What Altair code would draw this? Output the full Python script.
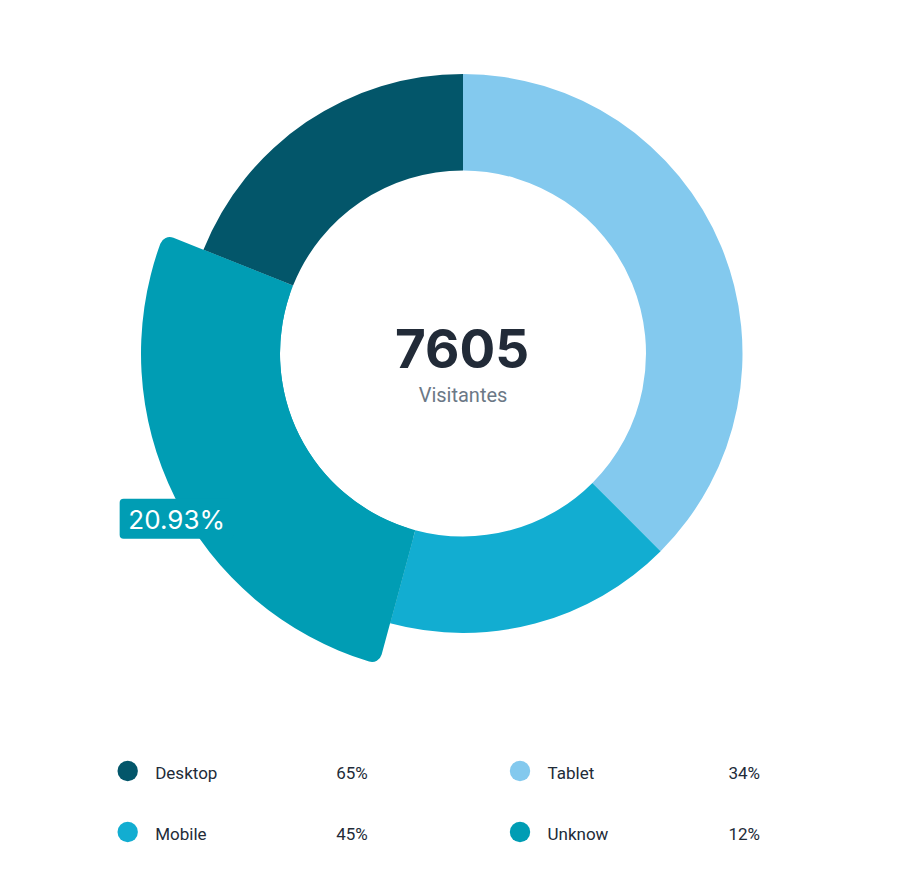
import altair as alt
import pandas as pd

# ---- data ----
categories = ["Tablet", "Mobile", "Unknow", "Desktop"]      # clockwise from 12 o'clock
shares = [37.5, 16.7, 26.85, 18.95]                          # visual share of the ring
colors = ["#83c9ee", "#12add1", "#009db4", "#03566a"]
highlight = "Unknow"
highlight_label = "20.93%"
total_visitors = "7605"
center_caption = "Visitantes"
legend_names = ["Desktop", "Mobile", "Tablet", "Unknow"]
legend_pcts = ["65%", "45%", "34%", "12%"]

# ---- layout ----
W, H = 900, 860
CX, CY = 455, 345.5
R_IN, R_OUT, R_HL = 183, 279.5, 322
LABEL_R = 330.6
LABEL_SHIFT = -0.06
TEXT_DARK = "#222b38"
TEXT_GREY = "#6b7886"

df = pd.DataFrame({"cat": categories, "share": shares, "ord": list(range(len(categories)))})
df["label"] = [highlight_label if c == highlight else "" for c in categories]

color_scale = alt.Scale(domain=categories, range=colors)

base = alt.Chart(df).encode(
    theta=alt.Theta("share:Q", stack=True),
    order=alt.Order("ord:Q"),
    color=alt.Color("cat:N", scale=color_scale, legend=None),
    x=alt.value(CX),
    y=alt.value(CY),
)

ring = base.mark_arc(innerRadius=R_IN, outerRadius=R_OUT)
hl = base.mark_arc(innerRadius=R_IN, outerRadius=R_HL, cornerRadius=10).encode(
    opacity=alt.condition(alt.datum.cat == highlight, alt.value(1), alt.value(0))
)

label_src = (
    alt.Chart(df)
    .transform_joinaggregate(total="sum(share)")
    .transform_window(cum="sum(share)", sort=[alt.SortField("ord")], frame=[None, 0])
    .transform_calculate(mid="(datum.cum - datum.share / 2) / datum.total * 2 * PI")
    .transform_filter(alt.datum.cat == highlight)
    .transform_calculate(
        lx=f"{CX} + {LABEL_R} * sin(datum.mid + {LABEL_SHIFT})",
        ly=f"{CY} - {LABEL_R} * cos(datum.mid + {LABEL_SHIFT})",
    )
    .encode(
        x=alt.X("lx:Q", scale=None, axis=None),
        y=alt.Y("ly:Q", scale=None, axis=None),
    )
)

rect_path = ("M-0.93,-0.351 L0.93,-0.351 Q1,-0.351 1,-0.281 L1,0.281 Q1,0.351 0.93,0.351 "
             "L-0.93,0.351 Q-1,0.351 -1,0.281 L-1,-0.281 Q-1,-0.351 -0.93,-0.351 Z")
label_box = label_src.mark_point(
    shape=rect_path, size=114 * 114, filled=True, opacity=1, strokeWidth=0, color="#009db4"
)
label_text = label_src.mark_text(
    font="Inter", fontSize=26, color="white", align="center", baseline="middle", dy=2
).encode(text="label:N")

center_df = pd.DataFrame({"t": [total_visitors], "c": [center_caption]})
center_num = alt.Chart(center_df).mark_text(
    font="Inter", fontSize=53, fontWeight="bold", color=TEXT_DARK,
    align="center", baseline="alphabetic",
).encode(text="t:N", x=alt.value(454), y=alt.value(360))
center_cap = alt.Chart(center_df).mark_text(
    font="Roboto", fontSize=20, color=TEXT_GREY, align="center", baseline="alphabetic",
).encode(text="c:N", x=alt.value(455), y=alt.value(393.5))

leg_df = pd.DataFrame({"name": legend_names, "pct": legend_pcts})
leg = (
    alt.Chart(leg_df)
    .transform_window(idx="row_number()")
    .transform_calculate(col="floor((datum.idx - 1) / 2)", row="(datum.idx - 1) % 2")
    .encode(
        x=alt.X("col:Q", scale=alt.Scale(domain=[0, 1], range=[119.7, 512]), axis=None),
        y=alt.Y("row:Q", scale=alt.Scale(domain=[0, 1], range=[763, 824]), axis=None),
    )
)
leg_dot = leg.mark_circle(size=415, opacity=1).encode(
    color=alt.Color("name:N", scale=color_scale, legend=None)
)
leg_name = leg.mark_text(
    align="left", baseline="alphabetic", dx=27.5, dy=8, font="Roboto",
    fontSize=17, fontWeight="normal", color=TEXT_DARK,
).encode(text="name:N")
leg_pct = leg.mark_text(
    align="left", baseline="alphabetic", dx=208.5, dy=8, font="Roboto",
    fontSize=17, fontWeight="normal", color=TEXT_DARK,
).encode(text="pct:N")

chart = (
    alt.layer(ring, hl, label_box, label_text, center_num, center_cap, leg_dot, leg_name, leg_pct)
    .resolve_scale(x="independent", y="independent")
    .properties(width=W, height=H, autosize=alt.AutoSizeParams(type="none"), padding=0)
    .configure_view(stroke=None)
)

chart.save("out.html", embed_options={"renderer": "svg", "actions": False})
